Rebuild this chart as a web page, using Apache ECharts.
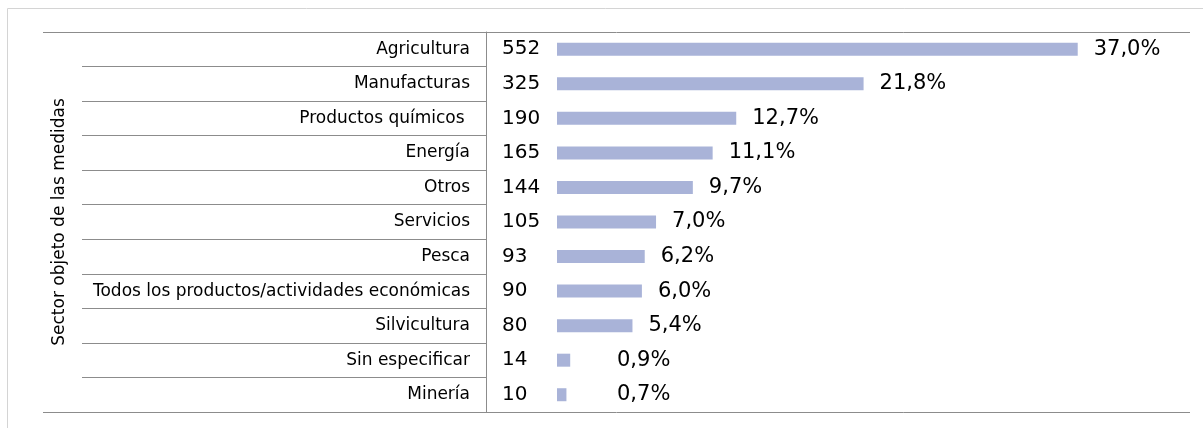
<!DOCTYPE html>
<html><head><meta charset="utf-8">
<script src="https://cdn.jsdelivr.net/npm/echarts@6/dist/echarts.min.js"></script>
<style>html,body{margin:0;padding:0;background:#fff}#c{width:1203px;height:428px}</style>
</head><body><div id="c"></div>
<script>
const categories = ['Agricultura','Manufacturas','Productos químicos ','Energía','Otros','Servicios','Pesca','Todos los productos/actividades económicas','Silvicultura','Sin especificar','Minería'];
const counts = [552,325,190,165,144,105,93,90,80,14,10];
const percents = ['37,0%','21,8%','12,7%','11,1%','9,7%','7,0%','6,2%','6,0%','5,4%','0,9%','0,7%'];
const axisTitle = 'Sector objeto de las medidas';

const FONT = 'DejaVu Sans';
const chart = echarts.init(document.getElementById('c'), null, {renderer:'canvas'});
const GL = 557, GT = 32, GB = 16, GR = 80, XMAX = 600;

function buildOption(distances){
  return {
    animation:false,
    textStyle:{fontFamily:FONT},
    grid:[
      {left:GL, top:GT, bottom:GB, right:GR},
      {left:82, top:GT, bottom:GB, right:1203-486}
    ],
    xAxis:[
      {type:'value', gridIndex:0, min:0, max:XMAX, show:false},
      {type:'value', gridIndex:1, min:0, max:1, show:false}
    ],
    yAxis:[
      {type:'category', gridIndex:0, data:categories, inverse:true, position:'left',
       axisLine:{show:false}, axisTick:{show:false}, splitLine:{show:false},
       axisLabel:{margin:GL-470, color:'#000', fontSize:17, fontFamily:FONT, align:'right'}},
      {type:'category', gridIndex:0, data:counts.map(String), inverse:true, position:'left',
       axisLine:{show:false}, axisTick:{show:false}, splitLine:{show:false},
       axisLabel:{margin:GL-502, color:'#000', fontSize:20, fontFamily:FONT, align:'left'}},
      {type:'category', gridIndex:1, data:categories, inverse:true, position:'right',
       axisLine:{show:true, onZero:false, lineStyle:{color:'#8c8c8c', width:1}},
       axisTick:{show:false}, axisLabel:{show:false},
       splitLine:{show:true, lineStyle:{color:'#8c8c8c', width:1}}}
    ],
    graphic:[
      {type:'rect', shape:{x:7.5, y:8.5, width:1300, height:500}, style:{fill:'none', stroke:'#d4d4d4', lineWidth:1}, silent:true, z:-1},
      {type:'line', shape:{x1:43, y1:32.5, x2:1190, y2:32.5}, style:{stroke:'#8c8c8c', lineWidth:1}, silent:true},
      {type:'line', shape:{x1:43, y1:412.5, x2:1190, y2:412.5}, style:{stroke:'#8c8c8c', lineWidth:1}, silent:true},
      {type:'text', rotation:Math.PI/2, x:60, y:222, style:{text:axisTitle, font:'17px "DejaVu Sans"', fill:'#000', align:'center', verticalAlign:'middle'}, silent:true}
    ],
    series:[
      {type:'bar', xAxisIndex:0, yAxisIndex:0, barWidth:13,
       itemStyle:{color:'#a9b3d8'},
       data:counts.map((v,i)=>({value:v, label:{distance:distances[i]}})),
       label:{show:true, position:'right', color:'#000', fontSize:21, fontFamily:FONT,
              formatter:p=>percents[p.dataIndex]}}
    ]
  };
}
chart.setOption(buildOption(counts.map(()=>16)));
const minLabelX = chart.convertToPixel({xAxisIndex:0}, 0) + 60;
const dists = counts.map(v => Math.max(16, minLabelX - chart.convertToPixel({xAxisIndex:0}, v)));
chart.setOption(buildOption(dists));
</script></body></html>
